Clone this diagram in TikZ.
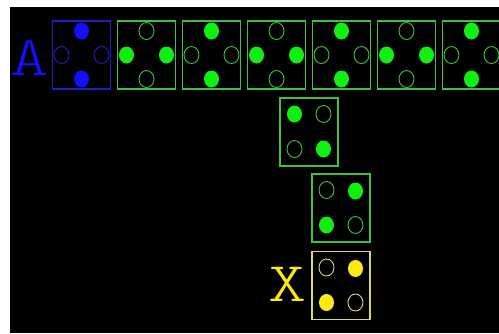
\documentclass[tikz,border=0pt]{standalone}
\usepackage{fontspec}
\usetikzlibrary{calc}

\begin{document}
\begin{tikzpicture}[x=1pt, y=-1pt,
    diebox/.style={draw, line width=1.1pt, minimum width=58pt, minimum height=68pt, inner sep=0pt},
    dotring/.style={line width=0.9pt},
    bigletter/.style={font=\ttfamily\fontseries{l}\fontsize{56}{56}\selectfont, inner sep=0pt, xscale=1.3}]
    % Define colours
    \definecolor{blueDot}{HTML}{1010FF}
    \definecolor{blueLine}{HTML}{2020C0}
    \definecolor{greenDot}{HTML}{10F010}
    \definecolor{greenLine}{HTML}{40C040}
    \definecolor{yellowDot}{HTML}{FFEA10}
    \definecolor{yellowLine}{HTML}{DADA60}

    % Define dot size and offsets
    \def\rx{7.5}
    \def\ry{8.5}
    \def\dx{20}
    \def\dy{24}

    % Background
    \useasboundingbox (0,0) rectangle (499,333);
    \fill[white] (0,0) rectangle (499,333);
    \clip (10,7) rectangle (499,333);
    \fill[black] (10,7) rectangle (499,333);

    % Top row of dice (dots at top, bottom, left, right)
    \node[diebox, draw=blueLine] (d0) at (81.5,55) {};
    \foreach \i in {1,...,6}
        \node[diebox, draw=greenLine] (d\i) at (81.5+65*\i,55) {};

    % Blue die: top and bottom filled
    \fill[blueDot] ($(d0.center)+(0,-\dy)$) ellipse ({\rx} and {\ry});
    \fill[blueDot] ($(d0.center)+(0,\dy)$) ellipse ({\rx} and {\ry});
    \draw[dotring, blueLine] ($(d0.center)+(-\dx,0)$) ellipse ({\rx} and {\ry});
    \draw[dotring, blueLine] ($(d0.center)+(\dx,0)$) ellipse ({\rx} and {\ry});

    % Green dice: left/right filled
    \foreach \i in {1,3,5} {
        \fill[greenDot] ($(d\i.center)+(-\dx,0)$) ellipse ({\rx} and {\ry});
        \fill[greenDot] ($(d\i.center)+(\dx,0)$) ellipse ({\rx} and {\ry});
        \draw[dotring, greenLine] ($(d\i.center)+(0,-\dy)$) ellipse ({\rx} and {\ry});
        \draw[dotring, greenLine] ($(d\i.center)+(0,\dy)$) ellipse ({\rx} and {\ry});
    }
    % Green dice: top/bottom filled
    \foreach \i in {2,4,6} {
        \fill[greenDot] ($(d\i.center)+(0,-\dy)$) ellipse ({\rx} and {\ry});
        \fill[greenDot] ($(d\i.center)+(0,\dy)$) ellipse ({\rx} and {\ry});
        \draw[dotring, greenLine] ($(d\i.center)+(-\dx,0)$) ellipse ({\rx} and {\ry});
        \draw[dotring, greenLine] ($(d\i.center)+(\dx,0)$) ellipse ({\rx} and {\ry});
    }

    % Lower dice (dots at the corners)
    \node[diebox, draw=greenLine] (e1) at (309,132) {};
    \node[diebox, draw=greenLine] (e2) at (341,208) {};
    \node[diebox, draw=yellowLine] (e3) at (341,285.5) {};

    \fill[greenDot] ($(e1.center)+(-14.5,-18)$) ellipse ({\rx} and {\ry});
    \draw[dotring, greenLine] ($(e1.center)+(14.5,-18)$) ellipse ({\rx} and {\ry});
    \draw[dotring, greenLine] ($(e1.center)+(-14.5,17)$) ellipse ({\rx} and {\ry});
    \fill[greenDot] ($(e1.center)+(14.5,17)$) ellipse ({\rx} and {\ry});

    \draw[dotring, greenLine] ($(e2.center)+(-14.5,-18)$) ellipse ({\rx} and {\ry});
    \fill[greenDot] ($(e2.center)+(14.5,-17)$) ellipse ({\rx} and {\ry});
    \fill[greenDot] ($(e2.center)+(-14.5,17)$) ellipse ({\rx} and {\ry});
    \draw[dotring, greenLine] ($(e2.center)+(14.5,17)$) ellipse ({\rx} and {\ry});

    \draw[dotring, yellowLine] ($(e3.center)+(-14.5,-18)$) ellipse ({\rx} and {\ry});
    \fill[yellowDot] ($(e3.center)+(14.5,-17)$) ellipse ({\rx} and {\ry});
    \fill[yellowDot] ($(e3.center)+(-14.5,17)$) ellipse ({\rx} and {\ry});
    \draw[dotring, yellowLine] ($(e3.center)+(14.5,17)$) ellipse ({\rx} and {\ry});

    % Labels
    \node[bigletter, text=blueDot] (labelA) at (30,58) {A};
    \node[bigletter, text=yellowDot] (labelX) at (288,284) {X};

\end{tikzpicture}
\end{document}
